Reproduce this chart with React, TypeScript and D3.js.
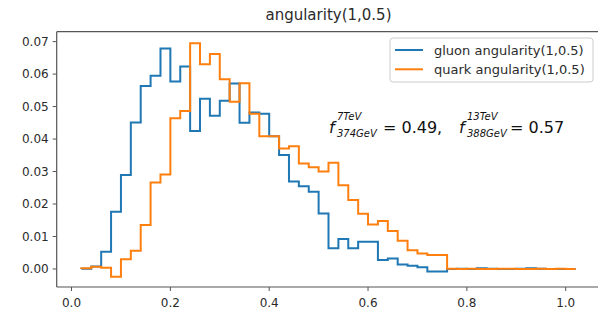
import React from "react";
import * as d3 from "d3";

// bin edges of the histograms (0.02 wide, 0.02 .. 1.02)
const binEdges = d3.range(51).map(i => +(0.02 + 0.02 * i).toFixed(2));

const gluonValues = [
  0.0001, 0.0008, 0.0053, 0.0176, 0.0289, 0.0451, 0.0563, 0.0595, 0.0679, 0.0577,
  0.0623, 0.0425, 0.0524, 0.0472, 0.0518, 0.0571, 0.0450, 0.0482, 0.0478, 0.0409,
  0.0351, 0.0269, 0.0255, 0.0238, 0.0171, 0.0064, 0.0092, 0.0064, 0.0084, 0.0084,
  0.0028, 0.0032, 0.0014, 0.0010, 0.0005, -0.0008, -0.0008, 0.0, 0.0001, 0.0,
  0.0002, 0.0001, 0.0, 0.0, 0.0001, 0.0002, 0.0001, 0.0, 0.0, 0.0
];

const quarkValues = [
  0.0002, 0.0007, 0.0004, -0.0024, 0.0030, 0.0056, 0.0135, 0.0266, 0.0291, 0.0464,
  0.0486, 0.0695, 0.0630, 0.0662, 0.0584, 0.0515, 0.0572, 0.0478, 0.0409, 0.0409,
  0.0371, 0.0378, 0.0325, 0.0313, 0.0300, 0.0327, 0.0258, 0.0212, 0.0170, 0.0137,
  0.0148, 0.0117, 0.0087, 0.0058, 0.0048, 0.0043, 0.0043, 0.0001, 0.0, 0.0001,
  0.0, 0.0, 0.0001, 0.0001, 0.0, 0.0, 0.0001, 0.0, 0.0001, 0.0
];

const xTicks = [0.0, 0.2, 0.4, 0.6, 0.8, 1.0];
const yTicks = [0.0, 0.01, 0.02, 0.03, 0.04, 0.05, 0.06, 0.07];

const series = [
  { name: "gluon angularity(1,0.5)", values: gluonValues, color: "#1f77b4" },
  { name: "quark angularity(1,0.5)", values: quarkValues, color: "#ff7f0e" }
];

const W = 598, H = 310;
const left = 56.7, right = 600.3, top = 31.7, bottom = 287;
const font = "'DejaVu Sans', sans-serif";
const textColor = "#2b2b2b";
const spine = "#555";

const App = () => {
  const x = d3.scaleLinear().domain([-0.03, 1.07]).range([left, right]);
  const y = d3.scaleLinear().domain([-0.00555, 0.07305]).range([bottom, top]);

  const stepPath = (values: number[]) => {
    const pts: [number, number][] = [[binEdges[0], 0]];
    values.forEach((v, i) => {
      pts.push([binEdges[i], v]);
      pts.push([binEdges[i + 1], v]);
    });
    pts.push([binEdges[binEdges.length - 1], 0]);
    return d3.line<[number, number]>().x(d => x(d[0])).y(d => y(d[1]))(pts) || "";
  };

  return (
    <svg width={W} height={H} style={{ position: "fixed", left: 0, top: 0, background: "#fff" }}>
      <rect x={0} y={0} width={W} height={H} fill="#fff" />
      <text x={(left + right) / 2} y={20} textAnchor="middle" fontFamily={font} fontSize={15} fill={textColor}>
        angularity(1,0.5)
      </text>

      <defs>
        <clipPath id="plot">
          <rect x={left} y={top} width={right - left} height={bottom - top} />
        </clipPath>
      </defs>

      <g clipPath="url(#plot)">
        {series.map(s => (
          <path key={s.name} d={stepPath(s.values)} fill="none" stroke={s.color} strokeWidth={2} strokeLinejoin="miter" />
        ))}
      </g>

      {/* spines (right one falls just outside the picture) */}
      <line x1={left} x2={left} y1={top} y2={bottom} stroke={spine} strokeWidth={1.2} />
      <line x1={left} x2={right} y1={bottom} y2={bottom} stroke={spine} strokeWidth={1.2} />
      <line x1={left} x2={right} y1={top} y2={top} stroke={spine} strokeWidth={1.2} />

      {/* y axis */}
      {yTicks.map(t => (
        <g key={"y" + t}>
          <line x1={left - 4} x2={left} y1={y(t)} y2={y(t)} stroke={spine} strokeWidth={1} />
          <text x={left - 8} y={y(t) + 4.2} textAnchor="end" fontFamily={font} fontSize={12} fill={textColor}>
            {t.toFixed(2)}
          </text>
        </g>
      ))}

      {/* x axis */}
      {xTicks.map(t => (
        <g key={"x" + t}>
          <line x1={x(t)} x2={x(t)} y1={bottom} y2={bottom + 4} stroke={spine} strokeWidth={1} />
          <text x={x(t)} y={bottom + 20} textAnchor="middle" fontFamily={font} fontSize={12} fill={textColor}>
            {t.toFixed(1)}
          </text>
        </g>
      ))}

      {/* legend */}
      <rect x={390} y={38} width={203} height={44} rx={3} fill="#fff" fillOpacity={0.8} stroke="#cccccc" strokeWidth={1} />
      {series.map((s, i) => (
        <g key={"lg" + s.name} transform={`translate(0, ${50 + i * 19.3})`}>
          <line x1={395} x2={423} y1={0} y2={0} stroke={s.color} strokeWidth={2} />
          <text x={434} y={4.5} fontFamily={font} fontSize={13} fill={textColor}>{s.name}</text>
        </g>
      ))}

      {/* annotation */}
      <g fontFamily={font} fill="#111">
        <text x={329} y={133} fontSize={16} fontStyle="italic">f</text>
        <text x={337} y={120} fontSize={10} fontStyle="italic">7TeV</text>
        <text x={337} y={137} fontSize={10} fontStyle="italic">374GeV</text>
        <text x={383} y={133} fontSize={16}>= 0.49,</text>
        <text x={459} y={133} fontSize={16} fontStyle="italic">f</text>
        <text x={467} y={120} fontSize={10} fontStyle="italic">13TeV</text>
        <text x={467} y={137} fontSize={10} fontStyle="italic">388GeV</text>
        <text x={510} y={133} fontSize={16}>= 0.57</text>
      </g>
    </svg>
  );
};

export default App;
